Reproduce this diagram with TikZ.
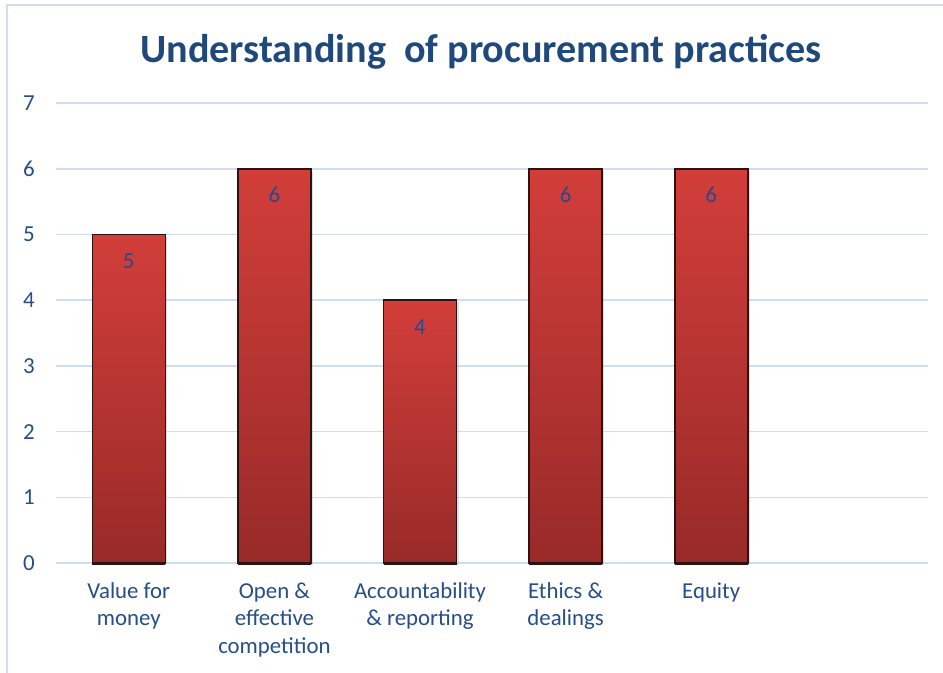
\documentclass[tikz,border=0pt]{standalone}
\usepackage{fontspec}
\setmainfont{Carlito}
\definecolor{titleblue}{RGB}{31,73,125}
\definecolor{labelblue}{RGB}{38,78,136}
\definecolor{valblue}{RGB}{35,75,145}
\definecolor{gridblue}{RGB}{205,221,242}
\definecolor{bartop}{RGB}{210,62,58}
\definecolor{barbot}{RGB}{152,42,40}
\definecolor{baredge}{RGB}{45,18,18}
\begin{document}
\begin{tikzpicture}[x=0.75pt,y=-0.75pt,
  gridline/.style={draw=gridblue,line width=1.1pt},
  framel/.style={draw=gridblue,line width=1.5pt},
  barbox/.style={top color=bartop,bottom color=barbot,draw=baredge,line width=1.2pt},
  ylab/.style={text=labelblue,font=\fontsize{17.2}{19}\selectfont,inner sep=0pt},
  vlab/.style={text=valblue,font=\fontsize{17.2}{19}\selectfont,inner sep=0pt,anchor=base},
  catlab/.style={text=labelblue,font=\fontsize{17.1}{20.6}\selectfont,inner sep=0pt,anchor=north,align=center},
  titlenode/.style={text=titleblue,font=\fontsize{30.1}{36}\selectfont\bfseries,inner sep=0pt,anchor=base}
]
\useasboundingbox (0,0) rectangle (943,672);
\fill[white] (0,0) rectangle (943,672);
% frame (top and left edges visible)
\draw[framel] (7,680) -- (7,4.5) -- (950,4.5);
% title
\node[titlenode] (title) at (481,62) {Understanding\ \ of procurement practices};
% grid lines and y labels
\foreach \v in {0,...,7}{
  \draw[gridline] (56,{563-65.7*\v}) -- (928,{563-65.7*\v});
  \node[ylab] (y\v) at (29,{563-65.7*\v}) {\v};
}
% bars
\foreach \i/\val in {0/5,1/6,2/4,3/6,4/6}{
  \pgfmathsetmacro{\cx}{56+145.6*(\i+0.5)}
  \pgfmathsetmacro{\ty}{563-65.7*\val}
  \fill[black!35,opacity=0.35] ({\cx-36.5+2},{\ty+2}) rectangle ({\cx+36.5+2},565);
  \path[barbox] ({\cx-36.5},\ty) rectangle ({\cx+36.5},563);
  \draw[baredge,line width=2pt] ({\cx-36.5},563.5) -- ({\cx+36.5},563.5);
  \node[vlab] (v\i) at (\cx,{\ty+34}) {\val};
}
% category labels
\node[catlab] (c0) at (128.8,579) {\strut Value for\\money};
\node[catlab] (c1) at (274.4,579) {\strut Open \&\\effective\\competition};
\node[catlab] (c2) at (420,579) {\strut Accountability\\\& reporting};
\node[catlab] (c3) at (565.6,579) {\strut Ethics \&\\dealings};
\node[catlab] (c4) at (711.2,579) {\strut Equity};
\end{tikzpicture}
\end{document}
